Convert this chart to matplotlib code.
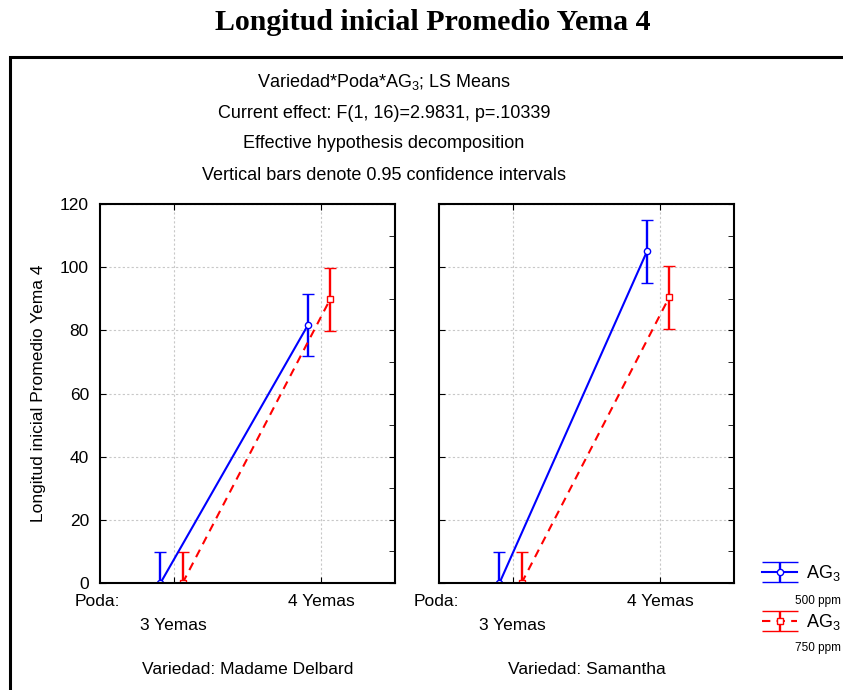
import matplotlib
matplotlib.use("Agg")
import matplotlib.pyplot as plt
from matplotlib.patches import Rectangle
from matplotlib.ticker import MultipleLocator
from matplotlib.legend_handler import HandlerErrorbar
from matplotlib.lines import Line2D

plt.rcParams['font.family'] = ['Liberation Sans', 'DejaVu Sans']
plt.rcParams['mathtext.fontset'] = 'custom'
plt.rcParams['mathtext.rm'] = 'Liberation Sans'
plt.rcParams['mathtext.default'] = 'regular'

# LS means and 0.95 CI half-widths per variety
poda = ["3 Yemas", "4 Yemas"]
variedades = ["Madame Delbard", "Samantha"]
ag3_500 = {"Madame Delbard": [0.0, 81.7], "Samantha": [0.0, 105.0]}
ag3_750 = {"Madame Delbard": [0.0, 89.8], "Samantha": [0.0, 90.4]}
ci = 9.9

header = ["Variedad*Poda*AG$_3$; LS Means",
          "Current effect: F(1, 16)=2.9831, p=.10339",
          "Effective hypothesis decomposition",
          "Vertical bars denote 0.95 confidence intervals"]


class WideCapHandler(HandlerErrorbar):
    # caps stretched to the full handle width
    def create_artists(self, legend, orig_handle, xdescent, ydescent, width, height,
                       fontsize, trans):
        artists = super().create_artists(legend, orig_handle, xdescent, ydescent, width,
                                         height, fontsize, trans)
        for a in artists:
            if isinstance(a, Line2D) and a.get_marker() == '_':
                a.set_markersize(width)
        return artists


fig = plt.figure(figsize=(8.43, 6.9), dpi=100)
fig.patch.set_facecolor('white')

fig.text(0.513, 1 - 23 / 690, "Longitud inicial Promedio Yema 4", ha='center', va='center',
         fontsize=21.5, fontweight='bold', family='Liberation Serif')

# outer frame
fig.add_artist(Rectangle((10 / 843, -0.1), 1.1, 1 - 57 / 690 + 0.1, transform=fig.transFigure,
                         fill=False, lw=2.2, ec='black'))

for i, line in enumerate(header):
    fig.text(384 / 843, 1 - (82 + 31 * i) / 690, line, ha='center', va='center', fontsize=13)

lefts = [100 / 843, 439 / 843]
for k, var in enumerate(variedades):
    ax = fig.add_axes([lefts[k], 1 - 583 / 690, 295 / 843, 379 / 690])
    x = range(len(poda))
    xb = [v - 0.09 for v in x]
    xr = [v + 0.06 for v in x]
    eb1 = ax.errorbar(xb, ag3_500[var], yerr=ci, color='#0000ff', lw=1.5, elinewidth=1.7,
                      capsize=4.5, capthick=1.7, marker='o', ms=4.5, mfc='white', mew=1.0,
                      label='AG$_3$')
    eb2 = ax.errorbar(xr, ag3_750[var], yerr=ci, color='#ff0000', lw=1.5, elinewidth=1.7,
                      capsize=4.5, capthick=1.7, marker='s', ms=4.5, mfc='white', mew=1.0,
                      ls=(0, (4, 3)), label='AG$_3$')
    ax.set_xlim(-0.5, 1.5)
    ax.set_ylim(0, 120)
    ax.set_xticks([0, 1])
    ax.set_xticklabels(["\n" + poda[0], poda[1]], fontsize=12.5)
    for lbl in ax.get_xticklabels():
        lbl.set_linespacing(1.75)
    ax.yaxis.set_major_locator(MultipleLocator(20))
    ax.yaxis.set_minor_locator(MultipleLocator(10))
    ax.tick_params(axis='x', direction='in', top=True, bottom=True, length=4, pad=8)
    ax.tick_params(axis='y', which='both', direction='in', left=True, right=True, length=4,
                   labelsize=12.5, pad=8)
    ax.tick_params(axis='y', which='minor', left=False)
    if k == 1:
        ax.tick_params(axis='y', labelleft=False)
    else:
        ax.set_ylabel("Longitud inicial Promedio Yema 4", fontsize=12.5, labelpad=10)
    ax.grid(True, color='#c8c8c8', ls=(0, (2, 2)), lw=0.8)
    ax.set_axisbelow(True)
    for s in ax.spines.values():
        s.set_linewidth(1.5)
    ax.text(-0.085, -0.03, "Poda:", transform=ax.transAxes, ha='left', va='top', fontsize=12.5)
    ax.set_xlabel("Variedad: " + var, fontsize=12.5, labelpad=21)

fig.legend(handles=[eb1, eb2], loc='upper left', bbox_to_anchor=(746 / 843, 1 - 547 / 690),
           frameon=False, fontsize=13, handlelength=1.95, labelspacing=1.6, handletextpad=0.45,
           handler_map={type(eb1): WideCapHandler(yerr_size=0.55)})
fig.text(795 / 843, 1 - 601 / 690, "500 ppm", fontsize=8.5, va='center')
fig.text(795 / 843, 1 - 648 / 690, "750 ppm", fontsize=8.5, va='center')

fig.savefig("out.png", dpi=100)
